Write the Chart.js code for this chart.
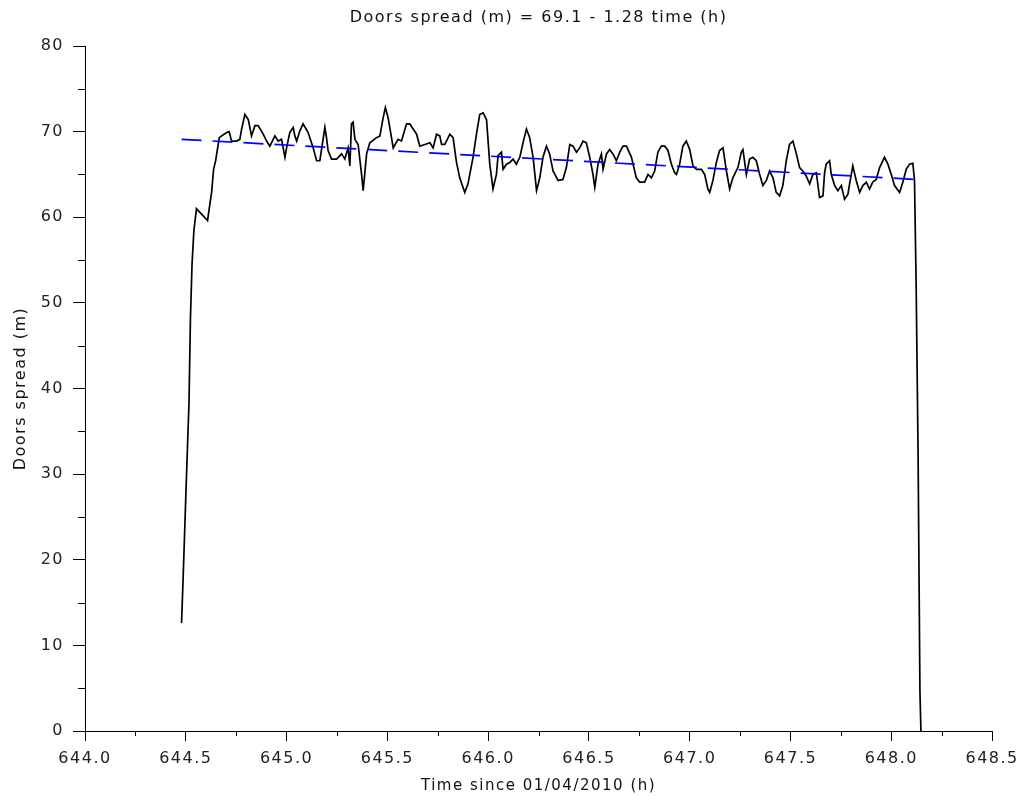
<!DOCTYPE html>
<html><head><meta charset="utf-8">
<script src="https://cdn.jsdelivr.net/npm/chart.js@4.4.1/dist/chart.umd.min.js"></script>
<style>html,body{margin:0;padding:0;background:#fff;} #wrap{width:1023px;height:796px;position:relative;}</style>
</head><body><div id="wrap"><canvas id="c" width="1023" height="796"></canvas></div>
<script>
const timeH = [644.479, 644.487, 644.499, 644.507, 644.516, 644.523, 644.531, 644.540, 644.547, 644.553, 644.608, 644.615, 644.628, 644.638, 644.648, 644.666,
644.678, 644.703, 644.715, 644.727, 644.752, 644.768, 644.777, 644.793, 644.810, 644.826,
644.843, 644.859, 644.884, 644.901, 644.917, 644.942, 644.958, 644.975, 644.992, 645.000,
645.016, 645.033, 645.041, 645.050, 645.066, 645.082, 645.107, 645.132, 645.149, 645.165,
645.174, 645.190, 645.198, 645.206, 645.223, 645.248, 645.273, 645.289, 645.305, 645.314,
645.322, 645.330, 645.339, 645.355, 645.372, 645.380, 645.397, 645.413, 645.446, 645.463,
645.479, 645.490, 645.504, 645.529, 645.553, 645.570, 645.595, 645.611, 645.628, 645.645,
645.661, 645.686, 645.711, 645.727, 645.744, 645.760, 645.769, 645.785, 645.810, 645.826,
645.843, 645.859, 645.884, 645.900, 645.925, 645.942, 645.958, 645.975, 645.992, 646.008,
646.024, 646.041, 646.049, 646.066, 646.074, 646.091, 646.107, 646.124, 646.140, 646.157,
646.173, 646.190, 646.206, 646.223, 646.240, 646.256, 646.272, 646.289, 646.305, 646.322,
646.347, 646.371, 646.388, 646.405, 646.421, 646.438, 646.454, 646.471, 646.487, 646.504,
646.520, 646.529, 646.545, 646.562, 646.570, 646.587, 646.603, 646.619, 646.636, 646.653,
646.669, 646.686, 646.711, 646.735, 646.752, 646.776, 646.793, 646.810, 646.826, 646.842,
646.859, 646.876, 646.892, 646.909, 646.925, 646.934, 646.950, 646.966, 646.983, 647.000,
647.016, 647.033, 647.058, 647.074, 647.090, 647.099, 647.115, 647.132, 647.148, 647.165,
647.182, 647.198, 647.214, 647.239, 647.256, 647.264, 647.281, 647.297, 647.313, 647.330,
647.347, 647.363, 647.380, 647.396, 647.413, 647.429, 647.446, 647.462, 647.479, 647.495,
647.512, 647.529, 647.545, 647.561, 647.578, 647.595, 647.611, 647.628, 647.644, 647.661,
647.669, 647.677, 647.694, 647.702, 647.719, 647.735, 647.752, 647.768, 647.785, 647.793,
647.809, 647.826, 647.843, 647.859, 647.876, 647.892, 647.908, 647.925, 647.942, 647.966,
647.983, 648.000, 648.016, 648.041, 648.057, 648.074, 648.090, 648.107, 648.115, 648.123,
648.133, 648.142, 648.147];
const spreadM = [12.6, 18.0, 26.6, 32.2, 38.4, 48.1, 54.5, 58.4, 59.8, 61.0, 59.6, 60.8, 62.9, 65.6, 66.6, 69.3,
69.5, 69.9, 70.0, 68.9, 68.9, 69.1, 70.3, 72.0, 71.4, 69.5,
70.7, 70.7, 69.7, 68.9, 68.3, 69.5, 68.9, 69.1, 67.0, 68.1,
69.9, 70.5, 69.5, 68.9, 70.1, 70.9, 69.9, 68.1, 66.6, 66.6,
68.0, 70.5, 69.3, 67.8, 66.8, 66.8, 67.4, 66.8, 68.1, 66.0,
70.9, 71.1, 69.1, 68.5, 65.0, 63.1, 67.4, 68.7, 69.3, 69.5,
71.6, 72.8, 71.6, 68.1, 69.1, 68.9, 70.9, 70.9, 70.3, 69.7,
68.3, 68.5, 68.7, 68.1, 69.7, 69.5, 68.5, 68.5, 69.7, 69.3,
66.4, 64.6, 62.9, 63.9, 67.0, 69.7, 72.0, 72.2, 71.4, 66.2,
63.3, 65.0, 67.2, 67.6, 65.6, 66.2, 66.4, 66.8, 66.2, 67.0,
68.7, 70.3, 69.3, 67.0, 63.1, 64.6, 67.0, 68.3, 67.4, 65.4,
64.3, 64.4, 65.8, 68.5, 68.3, 67.6, 68.1, 68.9, 68.7, 67.0,
65.0, 63.5, 66.2, 67.4, 65.6, 67.4, 67.9, 67.4, 66.6, 67.6,
68.3, 68.3, 67.0, 64.6, 64.1, 64.1, 65.0, 64.6, 65.4, 67.6,
68.3, 68.3, 67.8, 66.2, 65.2, 65.0, 66.2, 68.3, 68.9, 67.9,
66.0, 65.6, 65.6, 65.0, 63.3, 62.9, 64.3, 66.4, 67.8, 68.1,
65.4, 63.3, 64.6, 65.8, 67.6, 67.9, 65.0, 66.8, 67.0, 66.6,
65.0, 63.7, 64.3, 65.4, 64.6, 62.9, 62.5, 63.7, 66.6, 68.5,
68.9, 67.4, 65.8, 65.4, 64.8, 63.9, 65.0, 65.2, 62.3, 62.5,
65.2, 66.2, 66.6, 65.0, 63.7, 63.1, 63.7, 62.1, 62.7, 63.9,
66.0, 64.3, 62.9, 63.7, 64.1, 63.3, 64.1, 64.4, 65.8, 67.0,
66.2, 65.0, 63.7, 62.9, 64.1, 65.6, 66.2, 66.3, 64.3, 52.6,
32.0, 4.6, 0];
const fitTime = [644.479, 648.137];
const fitSpread = [69.1, 64.4];
const xTickValues = [644.0, 644.5, 645.0, 645.5, 646.0, 646.5, 647.0, 647.5, 648.0, 648.5];
const yTickValues = [0, 10, 20, 30, 40, 50, 60, 70, 80];
const xMinorTicks = [644.25, 644.75, 645.25, 645.75, 646.25, 646.75, 647.25, 647.75, 648.25];
const yMinorTicks = [5, 15, 25, 35, 45, 55, 65, 75];
const chartTitle = 'Doors spread (m) = 69.1 - 1.28 time (h)';
const xTitle = 'Time since 01/04/2010 (h)';
const yTitle = 'Doors spread (m)';

const seriesData = timeH.map((t, i) => ({x: t, y: spreadM[i]}));
const fitData = fitTime.map((t, i) => ({x: t, y: fitSpread[i]}));

Chart.defaults.font.family = "'DejaVu Sans', sans-serif";
Chart.defaults.color = '#222';

const spacingPlugin = {
  id: 'spacing',
  beforeDraw(chart) { if ('letterSpacing' in chart.ctx) chart.ctx.letterSpacing = '1.5px'; }
};
const minorTicksPlugin = {
  id: 'minorTicks',
  afterDraw(chart) {
    const {ctx, scales: {x, y}} = chart;
    ctx.save();
    ctx.strokeStyle = '#000';
    ctx.lineWidth = 1;
    ctx.beginPath();
    xMinorTicks.forEach(v => { const p = Math.round(x.getPixelForValue(v)) + 0.5; ctx.moveTo(p, y.bottom); ctx.lineTo(p, y.bottom + 5); });
    yMinorTicks.forEach(v => { const p = Math.round(y.getPixelForValue(v)) + 0.5; ctx.moveTo(x.left - 7, p); ctx.lineTo(x.left, p); });
    ctx.stroke();
    ctx.restore();
  }
};

new Chart(document.getElementById('c'), {
  type: 'line',
  data: {
    datasets: [
      { label: 'fit', data: fitData, borderColor: '#0000ff', borderWidth: 1.7, borderDash: [20, 11], pointRadius: 0, fill: false, order: 0 },
      { label: 'spread', data: seriesData, borderColor: '#000000', borderWidth: 1.7, pointRadius: 0, tension: 0, fill: false, order: 1 }
    ]
  },
  options: {
    responsive: false,
    animation: false,
    devicePixelRatio: 1,
    layout: { padding: { left: 0, right: 30, top: 0, bottom: 0 } },
    plugins: {
      legend: { display: false },
      tooltip: { enabled: false },
      title: { display: true, text: chartTitle, fullSize: false, color: '#111', font: { size: 16, weight: 'normal' }, padding: { top: 8, bottom: 18.8 } }
    },
    scales: {
      x: {
        type: 'linear', min: 644, max: 648.5,
        afterBuildTicks: s => { s.ticks = xTickValues.map(v => ({value: v})); },
        afterFit: s => { s.height = 65; },
        ticks: { callback: v => Number(v).toFixed(1), font: { size: 16 }, color: '#222', padding: 8, maxRotation: 0, autoSkip: false },
        grid: { drawOnChartArea: false, drawTicks: true, tickLength: 10, tickColor: '#000', tickWidth: 1 },
        border: { display: true, color: '#000', width: 1 },
        title: { display: true, text: xTitle, font: { size: 15 }, color: '#111', padding: { top: 0, bottom: 1 } }
      },
      y: {
        type: 'linear', min: 0, max: 80,
        afterBuildTicks: s => { s.ticks = yTickValues.map(v => ({value: v})); },
        afterFit: s => { s.width = 85; },
        ticks: { callback: v => String(v), font: { size: 16 }, color: '#222', padding: 9, autoSkip: false },
        grid: { drawOnChartArea: false, drawTicks: true, tickLength: 12, tickColor: '#000', tickWidth: 1 },
        border: { display: true, color: '#000', width: 1 },
        title: { display: true, text: yTitle, font: { size: 16 }, color: '#111', padding: { top: 11, bottom: 0 } }
      }
    }
  },
  plugins: [spacingPlugin, minorTicksPlugin]
});
</script></body></html>
